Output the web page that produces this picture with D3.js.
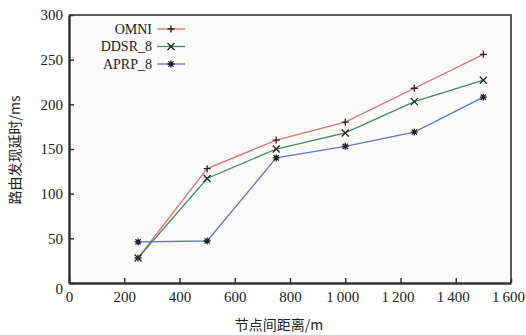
<!DOCTYPE html>
<html>
<head>
<meta charset="utf-8">
<script src="https://cdn.jsdelivr.net/npm/d3@7"></script>
<style>
  body { margin: 0; background: #fff; }
  svg text { font-family: "Liberation Serif", "Times New Roman", serif; fill: #222; }
  .cjk { font-family: "Noto Sans CJK SC", sans-serif; }
</style>
</head>
<body>
<svg id="chart"></svg>
<script>
// Données
const distances = [250, 500, 750, 1000, 1250, 1500];
const omni = [28, 128, 160, 180, 218, 256];
const ddsr = [28, 117, 150, 168, 203, 227];
const aprp = [46, 47, 140, 153, 169, 208];
const xTicks = [0, 200, 400, 600, 800, 1000, 1200, 1400, 1600];
const yTicks = [0, 50, 100, 150, 200, 250, 300];

const series = [
    { label: "OMNI", values: omni, color: "#e0706a", marker: "plus" },
    { label: "DDSR_8", values: ddsr, color: "#3f8a5e", marker: "cross" },
    { label: "APRP_8", values: aprp, color: "#6673c4", marker: "star" }
];

const W = 526, H = 335;
const margin = { top: 15, right: 15, bottom: 52, left: 69 };
const width = W - margin.left - margin.right;
const height = H - margin.top - margin.bottom;

const svg = d3.select("#chart").attr("width", W).attr("height", H);
const g = svg.append("g").attr("transform", `translate(${margin.left},${margin.top})`);

const x = d3.scaleLinear().domain([0, 1600]).range([0, width]);
const y = d3.scaleLinear().domain([0, 300]).range([height, 0]);

const fmt = d3.formatLocale({ decimal: ".", thousands: "\u2009", grouping: [3], currency: ["", ""] }).format(",d");

// fond de la zone de tracé
g.append("rect").attr("width", width).attr("height", height).attr("fill", "#fafafa");

// cadre haut / droite
g.append("path")
    .attr("d", `M0,0H${width}V${height}`)
    .attr("fill", "none").attr("stroke", "#5a5a5a").attr("stroke-width", 2);

const xAxis = g.append("g")
    .attr("transform", `translate(0,${height})`)
    .call(d3.axisBottom(x).tickValues(xTicks).tickFormat(fmt).tickSizeInner(-5).tickSizeOuter(0).tickPadding(8));
xAxis.select(".domain").attr("stroke", "#333").attr("stroke-width", 2.5);
xAxis.selectAll(".tick line").attr("stroke", "#333").attr("stroke-width", 1.5);
xAxis.selectAll("text").style("font-size", "15px").attr("fill", "#222").attr("dx", d => d >= 1000 ? -3 : 0);

const yAxis = g.append("g")
    .call(d3.axisLeft(y).tickValues(yTicks).tickSizeInner(-5).tickSizeOuter(0).tickPadding(6));
yAxis.select(".domain").attr("stroke", "#333").attr("stroke-width", 2.5);
yAxis.selectAll(".tick line").attr("stroke", "#333").attr("stroke-width", 1.5);
yAxis.selectAll("text").style("font-size", "15px").attr("fill", "#222");
yAxis.selectAll(".tick").filter(d => d === 0).select("text").attr("dy", "0.7em");

function markerPath(type, r) {
    if (type === "plus") return `M0,${-r}V${r}M${-r},0H${r}`;
    if (type === "cross") return `M${-r},${-r}L${r},${r}M${-r},${r}L${r},${-r}`;
    const d = r * 0.75;
    return `M0,${-r}V${r}M${-r},0H${r}M${-d},${-d}L${d},${d}M${-d},${d}L${d},${-d}`;
}

const line = d3.line()
    .x((d, i) => x(distances[i]))
    .y(d => y(d));

series.forEach(s => {
    g.append("path")
        .datum(s.values)
        .attr("fill", "none")
        .attr("stroke", s.color)
        .attr("stroke-width", 1.3)
        .attr("d", line);
});

series.forEach(s => {
    g.selectAll(null)
        .data(s.values)
        .enter().append("path")
        .attr("transform", (d, i) => `translate(${x(distances[i])},${y(d)})`)
        .attr("d", markerPath(s.marker, 3.5))
        .attr("fill", "none")
        .attr("stroke", "#222")
        .attr("stroke-width", 1.3);
});

// légende
const legend = svg.append("g").attr("transform", "translate(152,29)");
series.forEach((s, i) => {
    const row = legend.append("g").attr("transform", `translate(0,${i * 17.5})`);
    row.append("text")
        .attr("x", 0).attr("y", 0).attr("dy", "0.35em")
        .attr("text-anchor", "end")
        .style("font-size", "14px")
        .text(s.label);
    row.append("line")
        .attr("x1", 5).attr("x2", 33).attr("y1", 0).attr("y2", 0)
        .attr("stroke", s.color).attr("stroke-width", 1.3);
    row.append("path")
        .attr("transform", "translate(19,0)")
        .attr("d", markerPath(s.marker, 3.5))
        .attr("fill", "none").attr("stroke", "#222").attr("stroke-width", 1.3);
});

svg.append("text")
    .attr("class", "cjk")
    .attr("x", 279).attr("y", 330)
    .attr("text-anchor", "middle")
    .style("font-size", "14px")
    .text("节点间距离/m");

svg.append("text")
    .attr("class", "cjk")
    .attr("transform", "translate(20,150) rotate(-90)")
    .attr("text-anchor", "middle")
    .style("font-size", "14px")
    .text("路由发现延时/ms");
</script>
</body>
</html>
